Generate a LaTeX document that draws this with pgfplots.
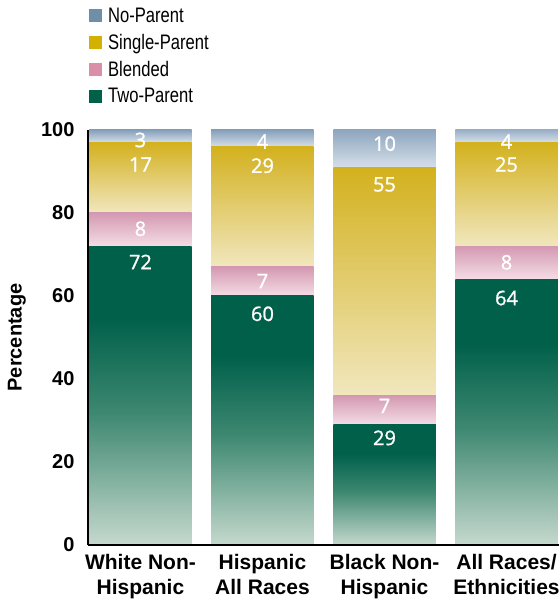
\documentclass[border=0pt]{standalone}
\usepackage{pgfplots}
\pgfplotsset{compat=1.18}
\usepackage{fontspec}
\setmainfont{Liberation Sans}
\newfontfamily\narrowfont[FakeStretch=0.79]{Liberation Sans}
\newfontfamily\valfont[FakeBold=1.2]{Open Sans}

% segment gradients (top / bottom of each segment)
\definecolor{npTop}{HTML}{86A0BB}
\definecolor{npBot}{HTML}{D6DFE9}
\definecolor{spTop}{HTML}{D3B11E}
\definecolor{spBot}{HTML}{F1E7BE}
\definecolor{blTop}{HTML}{D499B2}
\definecolor{blBot}{HTML}{F4DDE5}
\definecolor{tpTop}{HTML}{00604A}
\definecolor{tpMid}{HTML}{3E8871}
\definecolor{tpBot}{HTML}{C6D9CE}
% legend keys
\definecolor{npKey}{HTML}{6E8EAA}
\definecolor{spKey}{HTML}{D4B000}
\definecolor{blKey}{HTML}{D98FAA}
\definecolor{tpKey}{HTML}{00604A}

\pgfdeclareverticalshading{twopar}{100bp}{color(0bp)=(tpBot); color(25bp)=(tpBot); color(47bp)=(tpMid); color(63bp)=(tpTop); color(75bp)=(tpTop); color(100bp)=(tpTop)}

\newcommand\lblfont{\bfseries\fontsize{20bp}{25bp}\selectfont}
\newcommand\catfont{\bfseries\fontsize{21bp}{25bp}\selectfont}

\pgfplotsset{
  common/.style={
    at={(0,0)}, anchor=south west,
    scale only axis, width=471bp, height=415bp,
    xmin=-0.43, xmax=3.43, ymin=0, ymax=100,
  }
}

% one stacked bar per axis, so that every segment gets its own gradient
% #1 position, #2 two-parent, #3 blended, #4 single-parent, #5 no-parent
\newcommand\stackbar[5]{%
\begin{axis}[common, hide axis, ybar stacked, bar width=0.84]
\addplot[draw=none, shading=twopar] coordinates {(#1,#2)};
\addplot[draw=none, top color=blTop, bottom color=blBot] coordinates {(#1,#3)};
\addplot[draw=none, top color=spTop, bottom color=spBot] coordinates {(#1,#4)};
\addplot[draw=none, top color=npTop, bottom color=npBot] coordinates {(#1,#5)};
\end{axis}}

\begin{document}
\begin{tikzpicture}
\useasboundingbox (-88bp,-57bp) rectangle (471bp,545bp);

\stackbar{0}{72}{8}{17}{3}
\stackbar{1}{60}{7}{29}{4}
\stackbar{2}{29}{7}{55}{10}
\stackbar{3}{64}{8}{25}{4}

\begin{axis}[
  common, clip=false,
  axis x line=bottom, axis y line=left,
  axis line style={-, line width=2.4bp, black},
  major tick length=0pt,
  xtick={0,1,2,3},
  xticklabels={White Non-\\Hispanic, Hispanic\\All Races, Black Non-\\Hispanic, All Races/\\Ethnicities},
  xticklabel style={align=center, font=\catfont, yshift=-6bp},
  ytick={0,20,...,100},
  /pgf/number format/assume math mode=true,
  yticklabel style={font=\lblfont, xshift=-10bp},
  ylabel={Percentage},
  ylabel style={at={(axis description cs:-0.151,0.5)}, anchor=center, font=\lblfont},
  legend image code/.code={%
    \path[draw=none, fill=none] (0bp,-6.5bp) rectangle (17bp,6.5bp);
    \fill[#1, draw=none] (0bp,-6.5bp) rectangle (13bp,6.5bp);},
  legend cell align=left,
  legend style={at={(axis description cs:0.002,1.30)}, anchor=north west,
    draw=none, fill=none, inner sep=0pt, row sep=6.5bp,
    font=\narrowfont\fontsize{21bp}{24bp}\selectfont},
]
\addlegendimage{npKey}
\addlegendimage{spKey}
\addlegendimage{blKey}
\addlegendimage{tpKey}
% value labels: two-parent, blended, single-parent, no-parent
\addplot[forget plot, draw=none, mark=none, nodes near coords, point meta=explicit symbolic,
  nodes near coords style={white, anchor=center, font=\valfont\fontsize{20bp}{24bp}\selectfont}]
  coordinates {
  (0,68.2)[72] (1,55.7)[60] (2,25.8)[29] (3,59.5)[64]
  (0,76.2)[8]  (1,63.6)[7]  (2,33.5)[7]  (3,68.1)[8]
  (0,91.7)[17] (1,91.4)[29] (2,86.9)[55] (3,91.7)[25]
  (0,97.6)[3]  (1,97.2)[4]  (2,96.7)[10] (3,97.2)[4]
};
\legend{No-Parent, Single-Parent, Blended, Two-Parent}
\end{axis}
\end{tikzpicture}
\end{document}
